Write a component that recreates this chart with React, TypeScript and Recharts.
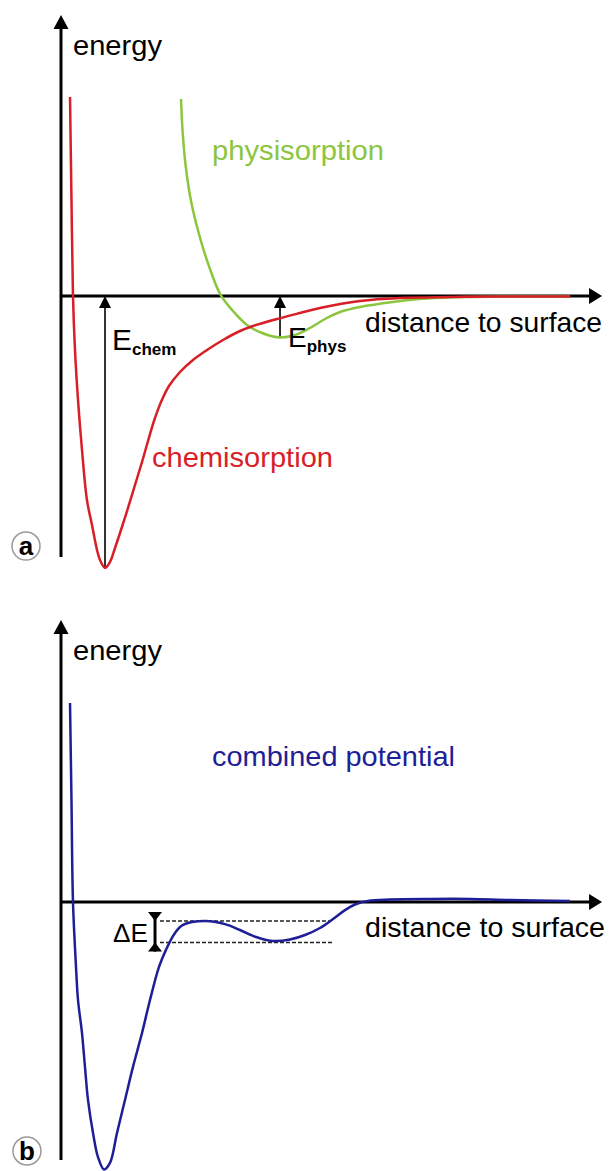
import React from 'react';
import { LineChart, Line, XAxis, YAxis, ReferenceLine, ReferenceDot } from 'recharts';

// ---------- data (distance, energy) ----------
const chemDistance = [0.167, 0.194, 0.222, 0.259, 0.315, 0.389, 0.481, 0.574, 0.667, 0.722, 0.815, 0.907, 1.0, 1.111, 1.241, 1.37, 1.5, 1.611, 1.722, 1.852, 2.0, 2.204, 2.444, 2.704, 3.0, 3.315, 3.556, 4.0, 4.426, 4.796, 5.537, 6.278, 7.204, 8.13, 9.43];
const chemEnergy = [7.11, 3.43, 0, -1.93, -3.71, -5.5, -7.29, -8.18, -9.07, -9.43, -9.71, -9.5, -9.0, -8.357, -7.571, -6.75, -5.929, -5.179, -4.464, -3.786, -3.214, -2.714, -2.286, -1.929, -1.571, -1.25, -1.071, -0.821, -0.607, -0.429, -0.179, -0.071, -0.036, -0.02, -0.018];

const physDistance = [2.222, 2.254, 2.311, 2.404, 2.55, 2.733, 2.956, 3.185, 3.444, 3.722, 4.056, 4.333, 4.611, 4.889, 5.167, 5.537, 6.148, 6.778, 7.574, 9.426];
const physEnergy = [7.036, 5.821, 4.607, 3.429, 2.25, 1.107, 0.036, -0.536, -1.036, -1.321, -1.482, -1.393, -1.143, -0.821, -0.571, -0.393, -0.214, -0.089, -0.036, -0.018];

const combinedDistance = [0.167, 0.194, 0.222, 0.278, 0.315, 0.389, 0.444, 0.5, 0.593, 0.685, 0.796, 0.907, 1.037, 1.185, 1.333, 1.5, 1.648, 1.815, 1.944, 2.111, 2.259, 2.667, 3.037, 3.315, 3.611, 3.907, 4.241, 4.519, 4.796, 5.037, 5.259, 5.444, 5.685, 6.093, 6.833, 7.574, 8.315, 9.426];
const combinedEnergy = [7.11, 3.64, 0, -2.32, -3.5, -4.68, -5.89, -7.07, -8.25, -9.11, -9.55, -9.32, -8.25, -7.07, -5.89, -4.68, -3.5, -2.32, -1.71, -1.11, -0.82, -0.68, -0.79, -1.0, -1.25, -1.39, -1.34, -1.18, -0.93, -0.61, -0.29, -0.09, 0.04, 0.09, 0.11, 0.11, 0.07, 0.04];

const axisLabels = { energy: 'energy', distance: 'distance to surface' };
const seriesLabels = { chem: 'chemisorption', phys: 'physisorption', combined: 'combined potential' };

// ---------- helpers ----------
const zip = (xs: number[], ys: number[]) => xs.map((x, i) => ({ x, y: ys[i] }));
const chemData = zip(chemDistance, chemEnergy);
const physData = zip(physDistance, physEnergy);
const combinedData = zip(combinedDistance, combinedEnergy);

const minPoint = (d: { x: number; y: number }[], lo = -Infinity, hi = Infinity) =>
  d.filter((p) => p.x >= lo && p.x <= hi).reduce((a, b) => (b.y < a.y ? b : a));
const maxPoint = (d: { x: number; y: number }[], lo = -Infinity, hi = Infinity) =>
  d.filter((p) => p.x >= lo && p.x <= hi).reduce((a, b) => (b.y > a.y ? b : a));

const chemMin = minPoint(chemData);
const physMin = minPoint(physData);
const barrierTop = maxPoint(combinedData, 2, 3.5);
const barrierBottom = minPoint(combinedData, 3, 5);

const RED = '#d81e26';
const GREEN = '#8cc63e';
const BLUE = '#1e1e96';
const FONT = '"Liberation Sans", Arial, sans-serif';

const W = 614;
const H = 590;
const MARGIN = { top: 16, right: 13, bottom: 14, left: 61 };

// centripetal Catmull-Rom curve factory (smooth, passes through points)
function catmullRom(context: any) {
  let pts: [number, number][] = [];
  const alpha = 0.5;
  return {
    areaStart() {},
    areaEnd() {},
    lineStart() {
      pts = [];
    },
    point(x: number, y: number) {
      pts.push([+x, +y]);
    },
    lineEnd() {
      const n = pts.length;
      if (!n) return;
      context.moveTo(pts[0][0], pts[0][1]);
      if (n === 1) return;
      const d = (a: [number, number], b: [number, number]) => Math.hypot(b[0] - a[0], b[1] - a[1]);
      for (let i = 0; i < n - 1; i++) {
        const p1 = pts[i], p2 = pts[i + 1];
        const p0 = i > 0 ? pts[i - 1] : p1;
        const p3 = i < n - 2 ? pts[i + 2] : p2;
        const l01 = d(p0, p1), l12 = d(p1, p2), l23 = d(p2, p3);
        const l01a = Math.pow(l01, alpha), l01_2a = l01;
        const l12a = Math.pow(l12, alpha), l12_2a = l12;
        const l23a = Math.pow(l23, alpha), l23_2a = l23;
        let c1x = p1[0], c1y = p1[1], c2x = p2[0], c2y = p2[1];
        if (l01a > 1e-9) {
          const a = 2 * l01_2a + 3 * l01a * l12a + l12_2a;
          const nn = 3 * l01a * (l01a + l12a);
          c1x = (p1[0] * a - p0[0] * l12_2a + p2[0] * l01_2a) / nn;
          c1y = (p1[1] * a - p0[1] * l12_2a + p2[1] * l01_2a) / nn;
        }
        if (l23a > 1e-9) {
          const b = 2 * l23_2a + 3 * l23a * l12a + l12_2a;
          const m = 3 * l23a * (l23a + l12a);
          c2x = (p2[0] * b + p1[0] * l23_2a - p3[0] * l12_2a) / m;
          c2y = (p2[1] * b + p1[1] * l23_2a - p3[1] * l12_2a) / m;
        }
        context.bezierCurveTo(c1x, c1y, c2x, c2y, p2[0], p2[1]);
      }
    },
  };
}

const arrowShape = (o: { w: number; head: number; hw: number; color: string }) => (p: any) => {
  const { x1, y1, x2, y2 } = p;
  const dx = x2 - x1, dy = y2 - y1;
  const len = Math.hypot(dx, dy) || 1;
  const ux = dx / len, uy = dy / len;
  const bx = x2 - ux * o.head, by = y2 - uy * o.head;
  const nx = -uy, ny = ux;
  return (
    <g>
      <line x1={x1} y1={y1} x2={bx + ux} y2={by + uy} stroke={o.color} strokeWidth={o.w} />
      <polygon
        points={`${x2},${y2} ${bx + nx * o.hw},${by + ny * o.hw} ${bx - nx * o.hw},${by - ny * o.hw}`}
        fill={o.color}
      />
    </g>
  );
};

const deltaShape = (p: any) => {
  const { x1, y1, x2, y2 } = p;
  const top = Math.min(y1, y2), bot = Math.max(y1, y2);
  const hw = 7, h = 9;
  return (
    <g>
      <line x1={x1} y1={top - h} x2={x1} y2={bot + h} stroke="#000" strokeWidth={3} />
      <polygon points={`${x1},${top} ${x1 - hw},${top - h} ${x1 + hw},${top - h}`} fill="#000" />
      <polygon points={`${x1},${bot} ${x1 - hw},${bot + h} ${x1 + hw},${bot + h}`} fill="#000" />
    </g>
  );
};

const textShape = (content: React.ReactNode, style: any) => (p: any) => (
  <text x={p.cx} y={p.cy} fontFamily={FONT} {...style}>
    {content}
  </text>
);

const circleLetter = (letter: string) => (p: any) => (
  <g>
    <circle cx={p.cx} cy={p.cy} r={14} fill="#fff" stroke="#999" strokeWidth={1.5} />
    <text x={p.cx} y={p.cy + 9} textAnchor="middle" fontFamily={FONT} fontWeight="bold" fontSize={26} fill="#000">
      {letter}
    </text>
  </g>
);

const axisArrows = (yBottom: number, yTop: number) => [
  <ReferenceLine
    key="yaxis"
    segment={[{ x: 0, y: yBottom }, { x: 0, y: yTop }]}
    ifOverflow="visible"
    shape={arrowShape({ w: 3, head: 14, hw: 7.5, color: '#000' })}
  />,
  <ReferenceLine
    key="xaxis"
    segment={[{ x: 0, y: 0 }, { x: 10.02, y: 0 }]}
    ifOverflow="visible"
    shape={arrowShape({ w: 3, head: 13, hw: 8, color: '#000' })}
  />,
];

function PanelA() {
  return (
    <LineChart width={W} height={H} margin={MARGIN}>
      <XAxis type="number" dataKey="x" domain={[0, 10]} hide />
      <YAxis type="number" dataKey="y" domain={[-10, 10]} hide />
      {axisArrows(-9.32, 10.04)}
      <ReferenceLine
        segment={[{ x: chemMin.x, y: chemMin.y }, { x: chemMin.x, y: 0 }]}
        ifOverflow="visible"
        shape={arrowShape({ w: 1.6, head: 12, hw: 6, color: '#000' })}
      />
      <ReferenceLine
        segment={[{ x: physMin.x, y: physMin.y }, { x: physMin.x, y: 0 }]}
        ifOverflow="visible"
        shape={arrowShape({ w: 1.6, head: 12, hw: 6, color: '#000' })}
      />
      <Line data={physData} dataKey="y" type={catmullRom as any} stroke={GREEN} strokeWidth={2.5} dot={false} isAnimationActive={false} />
      <Line data={chemData} dataKey="y" type={catmullRom as any} stroke={RED} strokeWidth={2.5} dot={false} isAnimationActive={false} />
      <ReferenceDot x={0.222} y={8.61} r={0} ifOverflow="visible" shape={textShape(axisLabels.energy, { fontSize: 28, fill: '#000', textLength: 89, lengthAdjust: 'spacingAndGlyphs' })} />
      <ReferenceDot x={2.796} y={4.857} r={0} ifOverflow="visible" shape={textShape(seriesLabels.phys, { fontSize: 28, fill: GREEN, textLength: 172, lengthAdjust: 'spacingAndGlyphs' })} />
      <ReferenceDot x={5.63} y={-1.286} r={0} ifOverflow="visible" shape={textShape(axisLabels.distance, { fontSize: 28, fill: '#000', textLength: 237, lengthAdjust: 'spacingAndGlyphs' })} />
      <ReferenceDot x={1.685} y={-6.107} r={0} ifOverflow="visible" shape={textShape(seriesLabels.chem, { fontSize: 28, fill: RED, textLength: 181, lengthAdjust: 'spacingAndGlyphs' })} />
      <ReferenceDot x={0.944} y={-1.929} r={0} ifOverflow="visible" shape={textShape(
        <>
          <tspan fontSize={30}>E</tspan>
          <tspan fontSize={17} fontWeight="bold" dy={5}>chem</tspan>
        </>, { fill: '#000' })} />
      <ReferenceDot x={4.204} y={-1.821} r={0} ifOverflow="visible" shape={textShape(
        <>
          <tspan fontSize={28}>E</tspan>
          <tspan fontSize={17} fontWeight="bold" dy={5}>phys</tspan>
        </>, { fill: '#000' })} />
      <ReferenceDot x={-0.648} y={-8.929} r={0} ifOverflow="visible" shape={circleLetter('a')} />
    </LineChart>
  );
}

function PanelB() {
  return (
    <LineChart width={W} height={H} margin={MARGIN}>
      <XAxis type="number" dataKey="x" domain={[0, 10]} hide />
      <YAxis type="number" dataKey="y" domain={[-10, 10]} hide />
      {axisArrows(-9.21, 10.07)}
      <ReferenceLine
        segment={[{ x: 1.833, y: barrierTop.y }, { x: 4.98, y: barrierTop.y }]}
        ifOverflow="visible"
        stroke="#222"
        strokeWidth={1.5}
        strokeDasharray="4 2"
      />
      <ReferenceLine
        segment={[{ x: 1.833, y: barrierBottom.y - 0.06 }, { x: 5.04, y: barrierBottom.y - 0.06 }]}
        ifOverflow="visible"
        stroke="#222"
        strokeWidth={1.5}
        strokeDasharray="4 2"
      />
      <ReferenceLine
        segment={[{ x: 1.741, y: barrierTop.y }, { x: 1.741, y: barrierBottom.y - 0.06 }]}
        ifOverflow="visible"
        shape={deltaShape}
      />
      <Line data={combinedData} dataKey="y" type={catmullRom as any} stroke={BLUE} strokeWidth={2.5} dot={false} isAnimationActive={false} />
      <ReferenceDot x={0.222} y={8.643} r={0} ifOverflow="visible" shape={textShape(axisLabels.energy, { fontSize: 28, fill: '#000', textLength: 89, lengthAdjust: 'spacingAndGlyphs' })} />
      <ReferenceDot x={2.796} y={4.857} r={0} ifOverflow="visible" shape={textShape(seriesLabels.combined, { fontSize: 28, fill: BLUE, textLength: 243, lengthAdjust: 'spacingAndGlyphs' })} />
      <ReferenceDot x={5.63} y={-1.25} r={0} ifOverflow="visible" shape={textShape(axisLabels.distance, { fontSize: 28, fill: '#000', textLength: 240, lengthAdjust: 'spacingAndGlyphs' })} />
      <ReferenceDot x={0.963} y={-1.429} r={0} ifOverflow="visible" shape={textShape('ΔE', { fontSize: 25, fill: '#000', textLength: 35, lengthAdjust: 'spacingAndGlyphs' })} />
      <ReferenceDot x={-0.63} y={-8.893} r={0} ifOverflow="visible" shape={circleLetter('b')} />
    </LineChart>
  );
}

export default function App() {
  return (
    <div style={{ position: 'absolute', left: 0, top: 0, width: 614, height: 1171, overflow: 'hidden', background: '#fff' }}>
      <div style={{ position: 'absolute', left: 0, top: 0 }}>
        <PanelA />
      </div>
      <div style={{ position: 'absolute', left: 0, top: 606 }}>
        <PanelB />
      </div>
    </div>
  );
}
